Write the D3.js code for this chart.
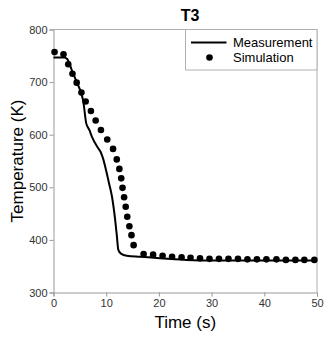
<!DOCTYPE html>
<html>
<head>
<meta charset="utf-8">
<script src="https://cdn.jsdelivr.net/npm/d3@7"></script>
<style>
  body { margin: 0; background: #fff; }
  text { font-family: "Liberation Sans", Arial, sans-serif; }
</style>
</head>
<body>
<div id="chart"></div>
<script>
// measured curve (time s, temperature K)
var measTime = [0, 1, 2, 2.6, 3.5, 4.4, 5.7, 6.2, 6.8, 7.3, 8.3, 8.9, 9.4, 10.1, 10.6, 11.1, 11.7, 12.0, 12.3, 12.8, 13.9, 16.5, 20.2, 25.3, 30, 40, 50];
var measTemp = [747, 747, 747, 744, 722, 700, 660, 622, 609, 596, 577, 568, 555, 527, 505, 482, 438, 410, 381, 374, 370, 368, 365, 362, 361, 361, 361];

// simulation points
var simTime = [0.2, 1.9, 2.8, 3.6, 4.4, 5.3, 6.1, 7.1, 8.0, 9.0, 10.2, 11.3, 12.0, 12.5, 12.85, 13.1, 13.4, 13.7, 14.0, 14.4, 14.8, 15.2,
  17.1, 18.9, 20.7, 22.5, 24.3, 26.0, 27.8, 29.6, 31.4, 33.2, 35.0, 36.8, 38.6, 40.4, 42.3, 44.1, 45.9, 47.6, 49.5];
var simTemp = [757, 753, 734, 716, 699, 680, 663, 645, 627, 609, 591, 573, 553, 535, 517, 499, 481, 463, 444, 426, 409, 390,
  373, 372, 370, 368, 367, 366, 365, 364, 364, 364, 364, 363, 363, 363, 363, 362, 362, 362, 362];

var xTicks = [0, 10, 20, 30, 40, 50];
var yTicks = [300, 400, 500, 600, 700, 800];
var legendLabels = ["Measurement", "Simulation"];

var W = 325, H = 337;
var margin = {top: 29.5, right: 8, bottom: 44.5, left: 53.5};
var width = W - margin.left - margin.right,
    height = H - margin.top - margin.bottom;

var svg = d3.select("#chart")
  .append("svg")
    .attr("width", W)
    .attr("height", H);

var g = svg.append("g")
  .attr("transform", "translate(" + margin.left + "," + margin.top + ")");

var x = d3.scaleLinear().domain([0, 50]).range([0, width]);
var y = d3.scaleLinear().domain([300, 800]).range([height, 0]);

// frame top/right
g.append("path")
  .attr("d", "M0,0H" + width + "V" + height)
  .attr("fill", "none")
  .attr("stroke", "#b0b0b0")
  .attr("stroke-width", 1);

var xAxis = g.append("g")
  .attr("transform", "translate(0," + height + ")")
  .call(d3.axisBottom(x).tickValues(xTicks).tickSize(4).tickPadding(3));

var yAxis = g.append("g")
  .call(d3.axisLeft(y).tickValues(yTicks).tickSize(4).tickPadding(2));

[xAxis, yAxis].forEach(function(a) {
  a.select(".domain").attr("stroke", "#999");
  a.selectAll(".tick line").attr("stroke", "#999");
  a.selectAll(".tick text")
    .attr("fill", "#333")
    .style("font-size", "11px")
    .style("font-family", "Liberation Sans, Arial, sans-serif");
});

// measurement line
var line = d3.line()
  .x(function(d, i) { return x(measTime[i]); })
  .y(function(d, i) { return y(measTemp[i]); })
  .curve(d3.curveMonotoneX);

g.append("path")
  .datum(measTemp)
  .attr("d", line)
  .attr("fill", "none")
  .attr("stroke", "#000")
  .attr("stroke-width", 2);

// simulation dots
g.selectAll(".dot")
  .data(simTemp)
  .enter()
  .append("circle")
    .attr("cx", function(d, i) { return x(simTime[i]); })
    .attr("cy", function(d) { return y(d); })
    .attr("r", 3.3)
    .attr("fill", "#000");

// legend
var lg = g.append("g").attr("transform", "translate(" + (185.5 - margin.left) + ",0)");
lg.append("rect")
  .attr("x", 0).attr("y", 0)
  .attr("width", width - (185.5 - margin.left)).attr("height", 40.5)
  .attr("fill", "#fff")
  .attr("stroke", "#b0b0b0");
lg.append("line")
  .attr("x1", 5.5).attr("x2", 41)
  .attr("y1", 13).attr("y2", 13)
  .attr("stroke", "#000").attr("stroke-width", 2);
lg.append("circle")
  .attr("cx", 24).attr("cy", 28).attr("r", 3.3).attr("fill", "#000");
lg.selectAll(".lt")
  .data(legendLabels)
  .enter()
  .append("text")
    .attr("x", 47.5)
    .attr("y", function(d, i) { return 13 + i * 15; })
    .attr("dy", "0.35em")
    .style("font-size", "13px")
    .attr("fill", "#000")
    .text(function(d) { return d; });

// title
svg.append("text")
  .attr("x", 190)
  .attr("y", 15)
  .attr("dy", "0.35em")
  .attr("text-anchor", "middle")
  .style("font-size", "16px")
  .style("font-weight", "bold")
  .text("T3");

// axis labels
svg.append("text")
  .attr("x", margin.left + width / 2)
  .attr("y", 328)
  .attr("text-anchor", "middle")
  .style("font-size", "17px")
  .text("Time (s)");

svg.append("text")
  .attr("transform", "translate(17," + (margin.top + height / 2) + ") rotate(-90)")
  .attr("text-anchor", "middle")
  .attr("dy", "0.35em")
  .style("font-size", "17px")
  .text("Temperature (K)");
</script>
</body>
</html>
